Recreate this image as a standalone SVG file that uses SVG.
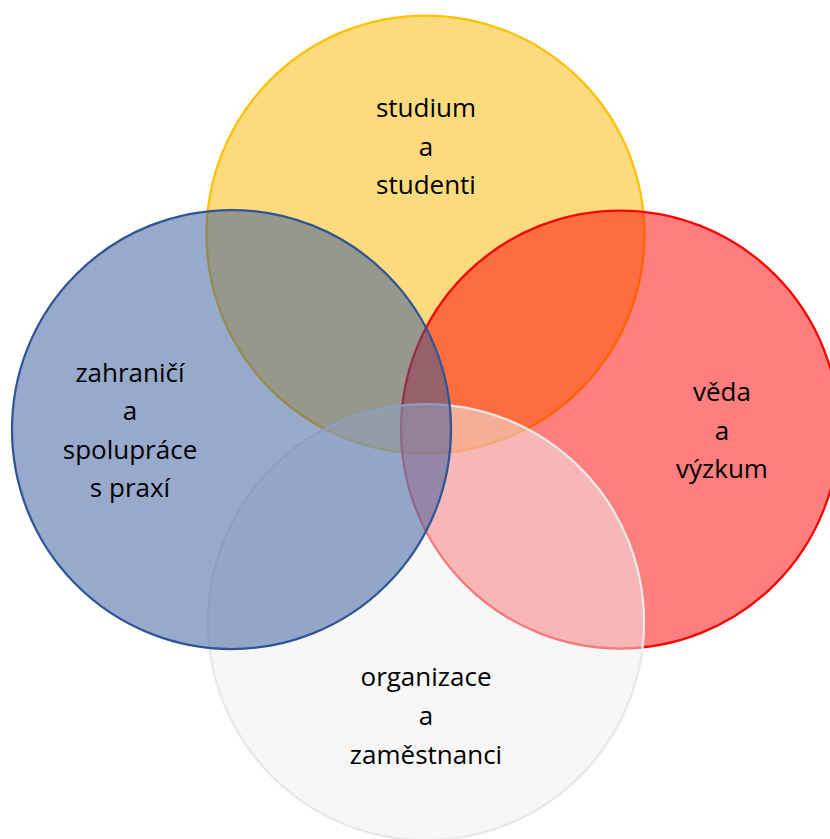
<svg xmlns="http://www.w3.org/2000/svg" width="830" height="839" viewBox="0 0 830 839">
<style>
.c{stroke-width:2.25}
.t{font-family:"Open Sans","Noto Sans","DejaVu Sans",sans-serif;font-size:26px;fill:#000;text-anchor:middle}
</style>
<rect width="830" height="839" fill="#fff"/>
<g id="studium">
<circle class="c" cx="425.5" cy="234.5" r="219" fill="#FAB800" fill-opacity="0.5" stroke="#FFC000"/>
<text class="t" x="426" y="117">studium</text>
<text class="t" x="426" y="155.5">a</text>
<text class="t" x="426" y="193.5">studenti</text>
</g>
<g id="veda">
<circle class="c" cx="620" cy="429.5" r="219" fill="#FF0000" fill-opacity="0.5" stroke="#FF0000"/>
<text class="t" x="722" y="401">věda</text>
<text class="t" x="722" y="439.5">a</text>
<text class="t" x="722" y="478">výzkum</text>
</g>
<g id="organizace">
<circle class="c" cx="426" cy="622" r="218" fill="#EFEFEF" fill-opacity="0.5" stroke="#E8E8E8"/>
<text class="t" x="426" y="686">organizace</text>
<text class="t" x="426" y="725">a</text>
<text class="t" x="426" y="764">zaměstnanci</text>
</g>
<g id="zahranici">
<circle class="c" cx="231.5" cy="429.5" r="219.5" fill="#2F5597" fill-opacity="0.5" stroke="#2F5597"/>
<text class="t" x="130" y="382">zahraničí</text>
<text class="t" x="130" y="420">a</text>
<text class="t" x="130" y="458.5">spolupráce</text>
<text class="t" x="130" y="497">s praxí</text>
</g>
<g id="connectors"/>
</svg>
